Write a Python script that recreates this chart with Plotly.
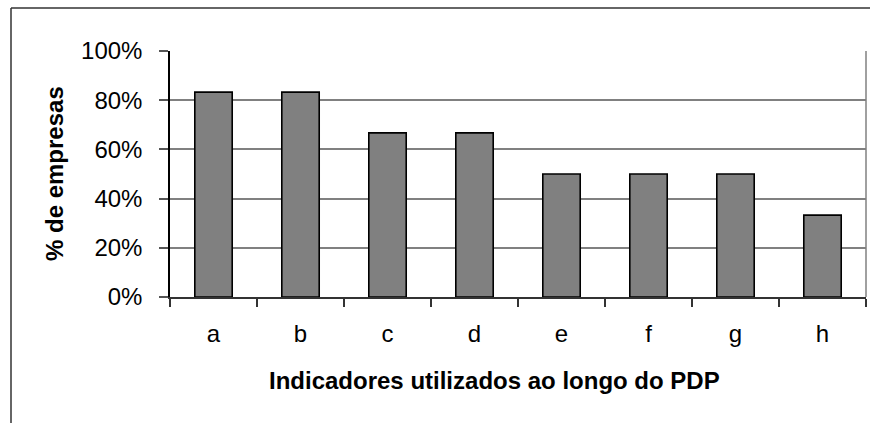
import plotly.graph_objects as go

categories = ["a", "b", "c", "d", "e", "f", "g", "h"]
values = [83.3, 83.3, 66.7, 66.7, 50.0, 50.0, 50.0, 33.3]
ytick_vals = [0, 20, 40, 60, 80, 100]
x_title = "Indicadores utilizados ao longo do PDP"
y_title = "% de empresas"

W, H = 870, 423
L, R, T, B = 170, 4, 51, 126
pw, ph = W - L - R, H - T - B

def px2x(p):
    return (p - L) / pw

def py2y(p):
    return 1 - (p - T) / ph

FONT = "Liberation Sans, Arial, sans-serif"

fig = go.Figure(
    go.Bar(
        x=categories,
        y=values,
        marker=dict(color="#808080", line=dict(color="#000000", width=1.6)),
        width=0.43,
    )
)

fig.update_layout(
    width=W,
    height=H,
    margin=dict(l=L, r=R, t=T, b=B, pad=0),
    paper_bgcolor="white",
    plot_bgcolor="white",
    showlegend=False,
    font=dict(family=FONT, size=24, color="#000000"),
)

fig.update_yaxes(
    range=[0, 100],
    tickvals=ytick_vals,
    ticktext=[f"{v}%" for v in ytick_vals],
    showgrid=True,
    gridcolor="#808080",
    gridwidth=1.5,
    showline=True,
    linecolor="#000000",
    linewidth=1.5,
    ticks="outside",
    ticklen=9,
    tickcolor="#555555",
    tickwidth=1.5,
    ticklabelstandoff=12,
    zeroline=False,
    tickfont=dict(size=24, family=FONT),
)

fig.update_xaxes(
    type="category",
    showline=True,
    linecolor="#333333",
    linewidth=1.5,
    ticks="outside",
    tickson="boundaries",
    ticklen=8,
    tickcolor="#333333",
    tickwidth=1.5,
    showgrid=False,
    ticklabelstandoff=14,
    tickfont=dict(size=24, family=FONT),
)

shapes = [
    # right border of plot area
    dict(type="line", xref="paper", yref="paper", x0=1, x1=1, y0=0, y1=1,
         line=dict(color="#808080", width=1.5), layer="above"),
    # outer chart border (top and left visible)
    dict(type="line", xref="paper", yref="paper", x0=px2x(11), x1=px2x(900),
         y0=py2y(8), y1=py2y(8), line=dict(color="#333333", width=1.5)),
    dict(type="line", xref="paper", yref="paper", x0=px2x(11), x1=px2x(11),
         y0=py2y(8), y1=py2y(450), line=dict(color="#333333", width=1.5)),
]
fig.update_layout(shapes=shapes)

fig.add_annotation(
    text=x_title, xref="paper", yref="paper",
    x=px2x(494), y=py2y(380), xanchor="center", yanchor="middle",
    showarrow=False, font=dict(size=24, family=FONT, color="#000000", weight="bold"),
)
fig.add_annotation(
    text=y_title, xref="paper", yref="paper",
    x=px2x(54), y=py2y(174), xanchor="center", yanchor="middle", textangle=-90,
    showarrow=False, font=dict(size=24, family=FONT, color="#000000", weight="bold"),
)

fig.write_html(
    "out.html",
    config={"displayModeBar": False},
    post_script="document.body.style.margin='0';document.body.style.overflow='hidden';",
)
